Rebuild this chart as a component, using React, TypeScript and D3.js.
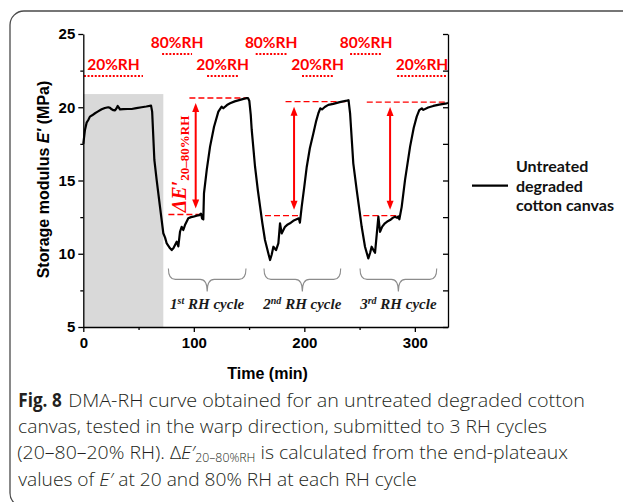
import React, { useRef, useEffect } from 'react';
import * as d3 from 'd3';

const width = 623;
const height = 502;
const plot = { left: 83.3, right: 448, top: 34, bottom: 327 };

// DMA-RH curve (time in min, storage modulus E' in MPa)
const times = [
  0, 1.5, 3, 4.5, 6, 8, 10.6, 13, 16.6, 19.5, 22.6, 24.2, 25.7, 27.2, 28.7, 30, 31.1, 32.2, 33.2, 36, 40,
  43.8, 48, 52.8, 57, 61.3, 62.3, 64.3, 66.4, 69.4, 72.4, 74, 75.5, 78.5, 80, 81.5, 83, 84.5, 86, 87.5, 89,
  90.5, 92, 95, 97.5, 99.6, 102.6, 105, 106.5, 107.5, 108.6, 109.2, 111.7, 114.7, 118.3, 122.2, 125.2,
  126.7, 130, 132.8, 137, 141.8, 145, 147.9, 149, 150.2, 151.5, 152.4, 155.4, 158, 160, 162, 164.4, 167.4,
  169, 170.5, 172, 174.4, 176.5, 178, 179.5, 182.5, 185, 187, 190, 193, 195, 196, 197.6, 200, 202.2, 205,
  208.2, 210.5, 212.7, 214.5, 216, 218.5, 221.7, 226.2, 232, 238.4, 240, 241.4, 244.3, 247.4, 250, 251.9,
  254.9, 257.9, 259.5, 260.9, 262.5, 264, 267, 268.5, 270.5, 272.9, 275, 277.6, 280, 282, 284, 285, 286,
  288.1, 291.1, 295.7, 299, 301.7, 304, 306.3, 307.7, 312, 316.7, 322, 328.8, 330,
];
const modulus = [
  17.5, 18.45, 18.95, 19.13, 19.36, 19.45, 19.59, 19.7, 19.86, 19.95, 20.0, 19.96, 19.86, 19.8, 19.78, 19.92,
  20.09, 19.98, 19.86, 19.87, 19.88, 19.88, 19.94, 20.0, 20.05, 20.11, 19.7, 16.4, 15.03, 13.2, 11.4, 11.1,
  10.7, 10.37, 10.25, 10.37, 10.6, 10.82, 10.5, 11.5, 11.84, 11.62, 11.96, 12.42, 12.5, 12.53, 12.6, 12.64,
  12.74, 12.4, 12.35, 14.13, 15.72, 17.31, 18.67, 19.7, 20.04, 19.93, 20.15, 20.27, 20.4, 20.5, 20.57,
  20.62, 20.63, 20.45, 19.5, 18.45, 15.94, 14.3, 13.2, 12.1, 10.94, 10.03, 9.57, 9.95, 10.48, 10.25, 10.71,
  12.08, 11.39, 11.84, 12.0, 12.08, 12.25, 12.35, 12.42, 12.12, 13.2, 14.6, 15.94, 17.2, 18.22, 19.0, 19.59,
  19.93, 19.85, 20.02, 20.16, 20.23, 20.35, 20.45, 20.48, 19.59, 16.17, 14.35, 12.9, 11.84, 10.48, 9.68,
  10.05, 10.48, 10.25, 10.07, 12.53, 11.5, 11.85, 12.08, 12.2, 12.3, 12.45, 12.53, 12.45, 12.55, 12.35,
  13.2, 15.03, 17.31, 18.6, 19.36, 19.8, 19.93, 19.82, 19.98, 20.09, 20.18, 20.27, 20.29,
];

const xTicks = [0, 100, 200, 300];
const xMinor = [50, 150, 250];
const yTicks = [5, 10, 15, 20, 25];
const yMinor = [7.5, 12.5, 17.5, 22.5];

// conditioning period (shaded)
const condEnd = 72.4;
const condTop = 20.9;

// RH steps along the top
const rhLabels = ['20%RH', '80%RH', '20%RH', '80%RH', '20%RH', '80%RH', '20%RH'];
const rhLevels = [20, 80, 20, 80, 20, 80, 20];
const rhStart = [0.6, 71.3, 112, 156, 197.9, 241.4, 284];
const rhEnd = [54, 98.4, 140, 184, 226, 270.3, 329];

// end plateaux per RH cycle
const topLevel = [20.63, 20.38, 20.35];
const topStart = [96, 183, 256.5];
const topEnd = [149, 240, 330];
const lowLevel = [12.68, 12.6, 12.6];
const lowStart = [77, 164.4, 253.4];
const lowEnd = [108.6, 196, 286.6];
const arrowTime = [101.7, 190.7, 277.6];

// RH cycle braces
const cycleNum = ['1', '2', '3'];
const cycleSup = ['st', 'nd', 'rd'];
const braceStart = [77, 163.5, 250.4];
const braceEnd = [147.2, 232.9, 319.8];

const RED = '#ff0000';
const AXIS_FONT = '"Liberation Sans", Arial, sans-serif';
const LABEL_FONT = 'Lato, "Open Sans", sans-serif';
const SERIF = '"Liberation Serif", "Times New Roman", serif';
const CAPTION_FONT = '"Open Sans", "Noto Sans", sans-serif';

const App: React.FC = () => {
  const chartRef = useRef<SVGSVGElement>(null);

  useEffect(() => {
    const svg = d3.select(chartRef.current);
    svg.selectAll('*').remove();

    const x = d3.scaleLinear().domain([0, 330]).range([plot.left, plot.right]);
    const y = d3.scaleLinear().domain([5, 25]).range([plot.bottom, plot.top]);

    svg.append('rect').attr('width', width).attr('height', height).attr('fill', '#fff');

    /** card frame */
    svg
      .append('rect')
      .attr('x', 10)
      .attr('y', 11)
      .attr('width', 700)
      .attr('height', 496)
      .attr('rx', 14)
      .attr('fill', 'none')
      .attr('stroke', '#4a4a4a')
      .attr('stroke-width', 1.3);

    /** conditioning shade */
    svg
      .append('rect')
      .attr('x', x(0))
      .attr('y', y(condTop))
      .attr('width', x(condEnd) - x(0))
      .attr('height', y(5) - y(condTop))
      .attr('fill', '#d9d9d9');

    /** RH step markers */
    const rhY = (lvl: number) => (lvl === 20 ? 22.14 : 23.64);
    const rh = svg.append('g');
    rhLabels.forEach((lab, i) => {
      rh.append('line')
        .attr('x1', x(rhStart[i]))
        .attr('x2', x(rhEnd[i]))
        .attr('y1', y(rhY(rhLevels[i])))
        .attr('y2', y(rhY(rhLevels[i])))
        .attr('stroke', RED)
        .attr('stroke-width', 2)
        .attr('stroke-dasharray', '2,1.6');
      rh.append('text')
        .attr('x', x((rhStart[i] + rhEnd[i]) / 2))
        .attr('y', y(rhY(rhLevels[i]) + 0.41))
        .attr('text-anchor', 'middle')
        .attr('font-family', LABEL_FONT)
        .attr('font-weight', 700)
        .attr('font-size', 15.5)
        .attr('fill', RED)
        .text(lab);
    });

    /** plateau guides and arrows */
    const guides = svg.append('g').attr('stroke', RED).attr('fill', 'none');
    topLevel.forEach((_, i) => {
      guides
        .append('line')
        .attr('x1', x(topStart[i]))
        .attr('x2', x(topEnd[i]))
        .attr('y1', y(topLevel[i]))
        .attr('y2', y(topLevel[i]))
        .attr('stroke-width', 1.3)
        .attr('stroke-dasharray', '6,3');
      guides
        .append('line')
        .attr('x1', x(lowStart[i]))
        .attr('x2', x(lowEnd[i]))
        .attr('y1', y(lowLevel[i]))
        .attr('y2', y(lowLevel[i]))
        .attr('stroke-width', 1.3)
        .attr('stroke-dasharray', '6,3');

      const ax = x(arrowTime[i]);
      const yT = y(topLevel[i]) + 5;
      const yB = y(lowLevel[i]) - 6;
      guides
        .append('line')
        .attr('x1', ax)
        .attr('x2', ax)
        .attr('y1', yT + 6)
        .attr('y2', yB - 6)
        .attr('stroke-width', 2);
      guides
        .append('path')
        .attr('d', `M${ax},${yT}L${ax - 3.5},${yT + 9}L${ax + 3.5},${yT + 9}Z`)
        .attr('fill', RED)
        .attr('stroke', 'none');
      guides
        .append('path')
        .attr('d', `M${ax},${yB}L${ax - 3.5},${yB - 9}L${ax + 3.5},${yB - 9}Z`)
        .attr('fill', RED)
        .attr('stroke', 'none');
    });

    /** delta E' label */
    const dl = svg
      .append('text')
      .attr('transform', `translate(${x(93.3)},${y(16.13)}) rotate(-90)`)
      .attr('text-anchor', 'middle')
      .attr('font-family', SERIF)
      .attr('font-weight', 700)
      .attr('fill', RED);
    dl.append('tspan').attr('font-size', 20).attr('font-style', 'italic').text('\u0394E\u2032');
    dl.append('tspan').attr('font-size', 13).attr('dy', 3).text('20\u201380%RH');

    /** curve */
    const pts: [number, number][] = times.map((t, i) => [t, modulus[i]]);
    svg
      .append('path')
      .datum(pts)
      .attr('fill', 'none')
      .attr('stroke', '#000')
      .attr('stroke-width', 2.2)
      .attr('stroke-linejoin', 'round')
      .attr('d', d3.line<[number, number]>().x((d) => x(d[0])).y((d) => y(d[1])));

    /** braces + cycle labels */
    const braceTop = y(9.0);
    braceStart.forEach((s, i) => {
      const x0 = x(s);
      const x1 = x(braceEnd[i]);
      const xc = (x0 + x1) / 2;
      const yMid = braceTop + 11;
      const yTip = braceTop + 23;
      const r = 7;
      const p = d3.path();
      p.moveTo(x0, braceTop);
      p.quadraticCurveTo(x0, yMid, x0 + r, yMid);
      p.lineTo(xc - r, yMid);
      p.quadraticCurveTo(xc, yMid, xc, yTip);
      p.quadraticCurveTo(xc, yMid, xc + r, yMid);
      p.lineTo(x1 - r, yMid);
      p.quadraticCurveTo(x1, yMid, x1, braceTop);
      svg
        .append('path')
        .attr('d', p.toString())
        .attr('fill', 'none')
        .attr('stroke', '#8c8c8c')
        .attr('stroke-width', 1.1);

      const t = svg
        .append('text')
        .attr('x', xc)
        .attr('y', y(6.2))
        .attr('text-anchor', 'middle')
        .attr('font-family', SERIF)
        .attr('font-weight', 700)
        .attr('font-style', 'italic')
        .attr('font-size', 15)
        .attr('fill', '#1a1a1a');
      t.append('tspan').text(cycleNum[i]);
      t.append('tspan').attr('font-size', 10).attr('dy', -5).text(cycleSup[i]);
      t.append('tspan').attr('dy', 5).text('\u00a0RH cycle');
    });

    /** axes */
    const styleAxis = (g: any) => {
      g.attr('font-family', AXIS_FONT).attr('font-size', 15).attr('font-weight', 700);
      g.selectAll('path,line').attr('stroke', '#000').attr('stroke-width', 1.3);
      g.selectAll('text').attr('fill', '#000');
    };

    svg
      .append('g')
      .attr('transform', `translate(0,${plot.bottom})`)
      .call(d3.axisBottom(x).tickValues(xTicks).tickSize(5).tickSizeOuter(0).tickPadding(5))
      .call(styleAxis);
    svg
      .append('g')
      .attr('transform', `translate(0,${plot.bottom})`)
      .call(d3.axisBottom(x).tickValues(xMinor).tickSize(3).tickFormat(() => ''))
      .call((g: any) => g.select('.domain').remove())
      .call(styleAxis);

    svg
      .append('g')
      .attr('transform', `translate(${plot.left},0)`)
      .call(d3.axisLeft(y).tickValues(yTicks).tickSize(5).tickSizeOuter(0).tickPadding(3))
      .call(styleAxis);
    svg
      .append('g')
      .attr('transform', `translate(${plot.left},0)`)
      .call(d3.axisLeft(y).tickValues(yMinor).tickSize(3).tickFormat(() => ''))
      .call((g: any) => g.select('.domain').remove())
      .call(styleAxis);

    svg
      .append('g')
      .attr('transform', `translate(${plot.right},0)`)
      .call(
        d3
          .axisRight(y)
          .tickValues([...yTicks, ...yMinor])
          .tickSize(-5)
          .tickSizeOuter(0)
          .tickFormat(() => ''),
      )
      .call(styleAxis);

    /** axis titles */
    svg
      .append('text')
      .attr('x', (plot.left + plot.right) / 2 + 2)
      .attr('y', 378.5)
      .attr('text-anchor', 'middle')
      .attr('font-family', AXIS_FONT)
      .attr('font-weight', 700)
      .attr('font-size', 16)
      .text('Time (min)');

    const yl = svg
      .append('text')
      .attr('transform', `translate(48.5,${(plot.top + plot.bottom) / 2 - 1}) rotate(-90)`)
      .attr('text-anchor', 'middle')
      .attr('font-family', AXIS_FONT)
      .attr('font-weight', 700)
      .attr('font-size', 16);
    yl.append('tspan').text('Storage modulus ');
    yl.append('tspan').attr('font-style', 'italic').text("E'");
    yl.append('tspan').text(' (MPa)');

    /** legend */
    svg
      .append('line')
      .attr('x1', 472)
      .attr('x2', 508)
      .attr('y1', 185.7)
      .attr('y2', 185.7)
      .attr('stroke', '#000')
      .attr('stroke-width', 2.2);
    ['Untreated', 'degraded', 'cotton canvas'].forEach((s, i) => {
      svg
        .append('text')
        .attr('x', 516)
        .attr('y', 172.3 + i * 19.2)
        .attr('font-family', LABEL_FONT)
        .attr('font-weight', 700)
        .attr('font-size', 16)
        .attr('fill', '#111')
        .text(s);
    });

    /** caption */
    const cap = svg
      .append('g')
      .attr('font-family', CAPTION_FONT)
      .attr('font-size', 19)
      .attr('fill', '#231f20');
    const line = (yy: number, x0: number, len: number) =>
      cap
        .append('text')
        .attr('x', x0)
        .attr('y', yy)
        .attr('font-weight', 300)
        .attr('textLength', len)
        .attr('lengthAdjust', 'spacingAndGlyphs');

    line(406.7, 18.3, 43.4).attr('font-weight', 700).text('Fig.\u00a08');
    line(406.7, 68.3, 516.7).text('DMA-RH curve obtained for an untreated degraded cotton');
    line(433, 18, 529).text('canvas, tested in the warp direction, submitted to 3 RH cycles');
    const l3 = line(459.3, 17.3, 550.7);
    l3.append('tspan').text('(20\u201380\u201320% RH). \u0394');
    l3.append('tspan').attr('font-style', 'italic').text('E\u2032');
    l3.append('tspan').attr('font-size', 12).attr('dy', 3).text('20\u201380%RH');
    l3.append('tspan').attr('dy', -3).text(' is calculated from the end-plateaux');
    const l4 = line(485.6, 18.3, 398.4);
    l4.append('tspan').text('values of ');
    l4.append('tspan').attr('font-style', 'italic').text('E\u2032');
    l4.append('tspan').text(' at 20 and 80% RH at each RH cycle');
  }, []);

  return (
    <svg
      ref={chartRef}
      width={width}
      height={height}
      style={{ position: 'absolute', left: 0, top: 0, display: 'block' }}
    />
  );
};

export default App;
